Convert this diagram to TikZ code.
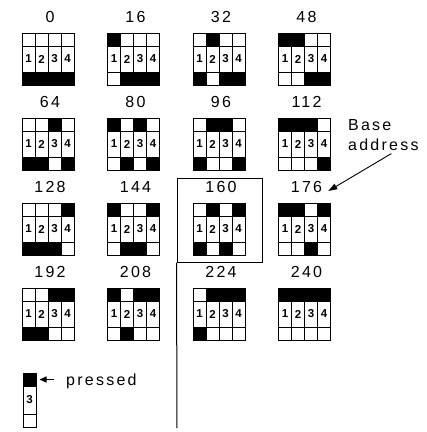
\documentclass[tikz,border=0pt]{standalone}
\usepackage{fontspec}
\setmainfont{Liberation Sans}
\newfontfamily\spacedfont[LetterSpace=14]{Liberation Sans}
\usetikzlibrary{arrows.meta, positioning}

\begin{document}
\begin{tikzpicture}[x=1pt, y=-1pt,
  addr/.style={font=\fontsize{16}{16}\spacedfont, inner sep=0pt},
  keynum/.style={font=\fontsize{11.5}{11.5}\selectfont\bfseries, inner sep=0pt},
  note/.style={font=\fontsize{16}{20}\spacedfont, inner sep=0pt, align=left},
  keyline/.style={draw=black, line width=1pt},
  keycell/.style={draw=black, fill=black, line width=1pt, minimum size=13pt, inner sep=0pt},
  pointer/.style={draw=black, line width=0.9pt, -{Triangle[length=9pt,width=6pt]}},
  selframe/.style={draw=black, line width=1pt, minimum width=85pt,
                   minimum height=84pt, inner sep=0pt}]

  \useasboundingbox (0,0) rectangle (427,432);

  % ---- Key pads, one per address ----
  \foreach \v [count=\i from 0] in {0,16,...,240} {
    \pgfmathtruncatemacro\col{mod(\i,4)}
    \pgfmathtruncatemacro\row{div(\i,4)}
    \pgfmathsetmacro\bx{22+85.5*\col}
    \pgfmathsetmacro\by{33+85*\row}
    \node[addr] (a\v) at (\bx+28,\by-16) {\v};
    \begin{scope}[shift={(\bx,\by)}]
      \foreach \c in {1,...,4} {
        \pgfmathtruncatemacro\bit{mod(div(\v,2^(\c+3)),2)}
        \ifnum\bit=1
          \fill (13*\c-13,0) rectangle (13*\c,13);
        \else
          \fill (13*\c-13,39) rectangle (13*\c,52);
        \fi
        \node[keynum] at (13*\c-6.5,26) {\c};
      }
      \draw[keyline] (0,0) rectangle (52,52) (0,13) -- (52,13) (0,39) -- (52,39)
        (13,0) -- (13,52) (26,0) -- (26,52) (39,0) -- (39,52);
    \end{scope}
  }

  % ---- Selected pad ----
  \node[selframe] (sel) at (219.5,220) {};
  \coordinate (selend) at (177,428);
  \draw[keyline] (sel.south west) -- (selend);

  % ---- Base address ----
  \node[note, anchor=north west] (base) at (348,119) {Base\\address};
  \draw[pointer] ([xshift=8pt,yshift=-3pt]base.south) -- ([xshift=6pt,yshift=-4pt]a176.east);

  % ---- Legend ----
  \node[keycell] (presskey) at (29.5,379.5) {};
  \draw[keyline] (23,386) rectangle (36,427) (23,414) -- (36,414);
  \node[keynum] at (29.5,400) {3};
  \node[note, anchor=base west] (presslbl) at (66,385) {pressed};
  \draw[pointer, -{Triangle[length=7pt,width=6pt]}, shorten <=12pt, shorten >=3pt]
    (presslbl.west |- presskey) -- (presskey.east);

\end{tikzpicture}
\end{document}
